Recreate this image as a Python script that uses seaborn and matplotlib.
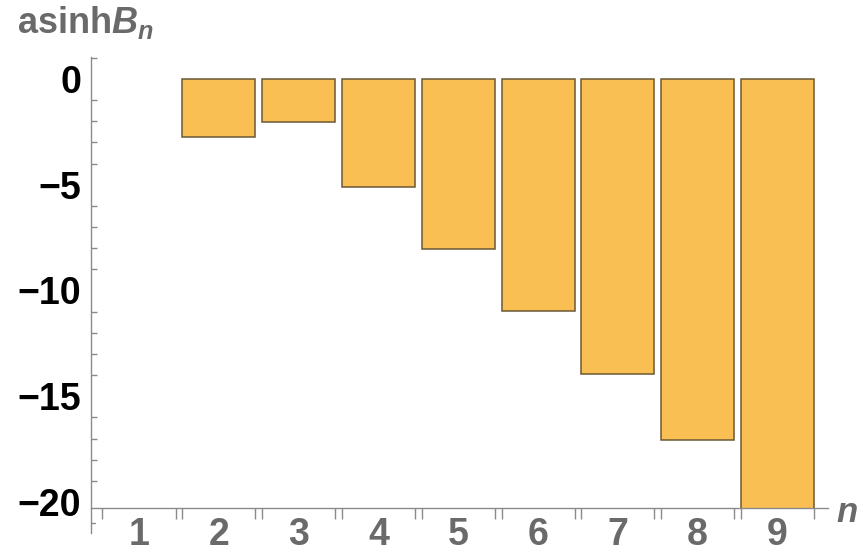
import numpy as np
import pandas as pd
import matplotlib
matplotlib.use("Agg")
import matplotlib.pyplot as plt
from matplotlib.ticker import FixedLocator, MultipleLocator
import seaborn as sns

# asinh of B_n for n = 1..9
n_labels = ["1", "2", "3", "4", "5", "6", "7", "8", "9"]
asinh_b = [0.0, -2.73, -2.02, -5.11, -8.02, -10.95, -13.95, -17.07, -20.4]

y_major = [0, -5, -10, -15, -20]
y_tick_labels = ["0", "\u22125", "\u221210", "\u221215", "\u221220"]

sns.set_style("white")
plt.rcParams["font.family"] = ["Liberation Sans", "DejaVu Sans"]
plt.rcParams["mathtext.fontset"] = "custom"
plt.rcParams["mathtext.rm"] = "Liberation Sans:bold"
plt.rcParams["mathtext.it"] = "Liberation Sans:bold:italic"
plt.rcParams["mathtext.bf"] = "Liberation Sans:bold"

BAR = "#F9BF53"
EDGE = "#6b5836"
AXIS = "#8a8a8a"
LABEL_GRAY = "#6a6a6a"

W, H = 863, 552
fig = plt.figure(figsize=(W / 100, H / 100), dpi=100)
ax = fig.add_axes([91 / W, 1 - 507.7 / H, (828 - 91) / W, (507.7 - 57) / H])

df = pd.DataFrame({"n": n_labels, "value": asinh_b})
sns.barplot(data=df, x="n", y="value", order=n_labels, color=BAR,
            saturation=1, width=0.915, edgecolor=EDGE, linewidth=1.1, ax=ax)

for p in ax.patches:
    if p.get_height() == 0:
        p.set_linewidth(0)

ax.set_xlim(-0.6015, 8.633)
ax.set_ylim(-20.27, 1.04)

# spines: only left and bottom, gray
for s in ["top", "right"]:
    ax.spines[s].set_visible(False)
for s in ["left", "bottom"]:
    ax.spines[s].set_color(AXIS)
    ax.spines[s].set_linewidth(1.0)
ax.spines["left"].set_bounds(-21.45, 1.04)

# y ticks
ax.yaxis.set_major_locator(FixedLocator(y_major))
ax.set_yticklabels(y_tick_labels)
ax.yaxis.set_minor_locator(MultipleLocator(1))
ax.tick_params(axis="y", which="major", direction="in", length=6, width=1,
               color=AXIS, pad=7, labelsize=27, labelcolor="black")
ax.tick_params(axis="y", which="minor", direction="in", length=4, width=1,
               color=AXIS, left=True)
for t in ax.get_yticklabels():
    t.set_fontweight("bold")

# extra minor tick below the horizontal axis
ax.plot([0, 4 / (828 - 91)], [-21, -21], transform=ax.get_yaxis_transform(),
        color=AXIS, lw=1, clip_on=False)

# x ticks: labels at bar centers, short ticks at bar edges
half = 0.915 / 2
edges = sorted([i - half for i in range(len(n_labels))] +
               [i + half for i in range(len(n_labels))])
ax.xaxis.set_minor_locator(FixedLocator(edges))
ax.tick_params(axis="x", which="minor", direction="out", length=8, width=1,
               color=AXIS, bottom=True)
ax.tick_params(axis="x", which="major", length=0, pad=6.5, labelsize=27,
               labelcolor=LABEL_GRAY)
for t in ax.get_xticklabels():
    t.set_fontweight("bold")

ax.set_xlabel("")
ax.set_ylabel("")
ax.grid(False)

fig.text(17 / W, 1 - 33 / H, r"asinh$B_n$", fontsize=26, fontweight="bold",
         color=LABEL_GRAY, ha="left", va="baseline")
fig.text(836 / W, 1 - 522 / H, "n", fontsize=25, fontweight="bold",
         fontstyle="italic", color=LABEL_GRAY, ha="left", va="baseline")

fig.savefig("out.png", dpi=100)
